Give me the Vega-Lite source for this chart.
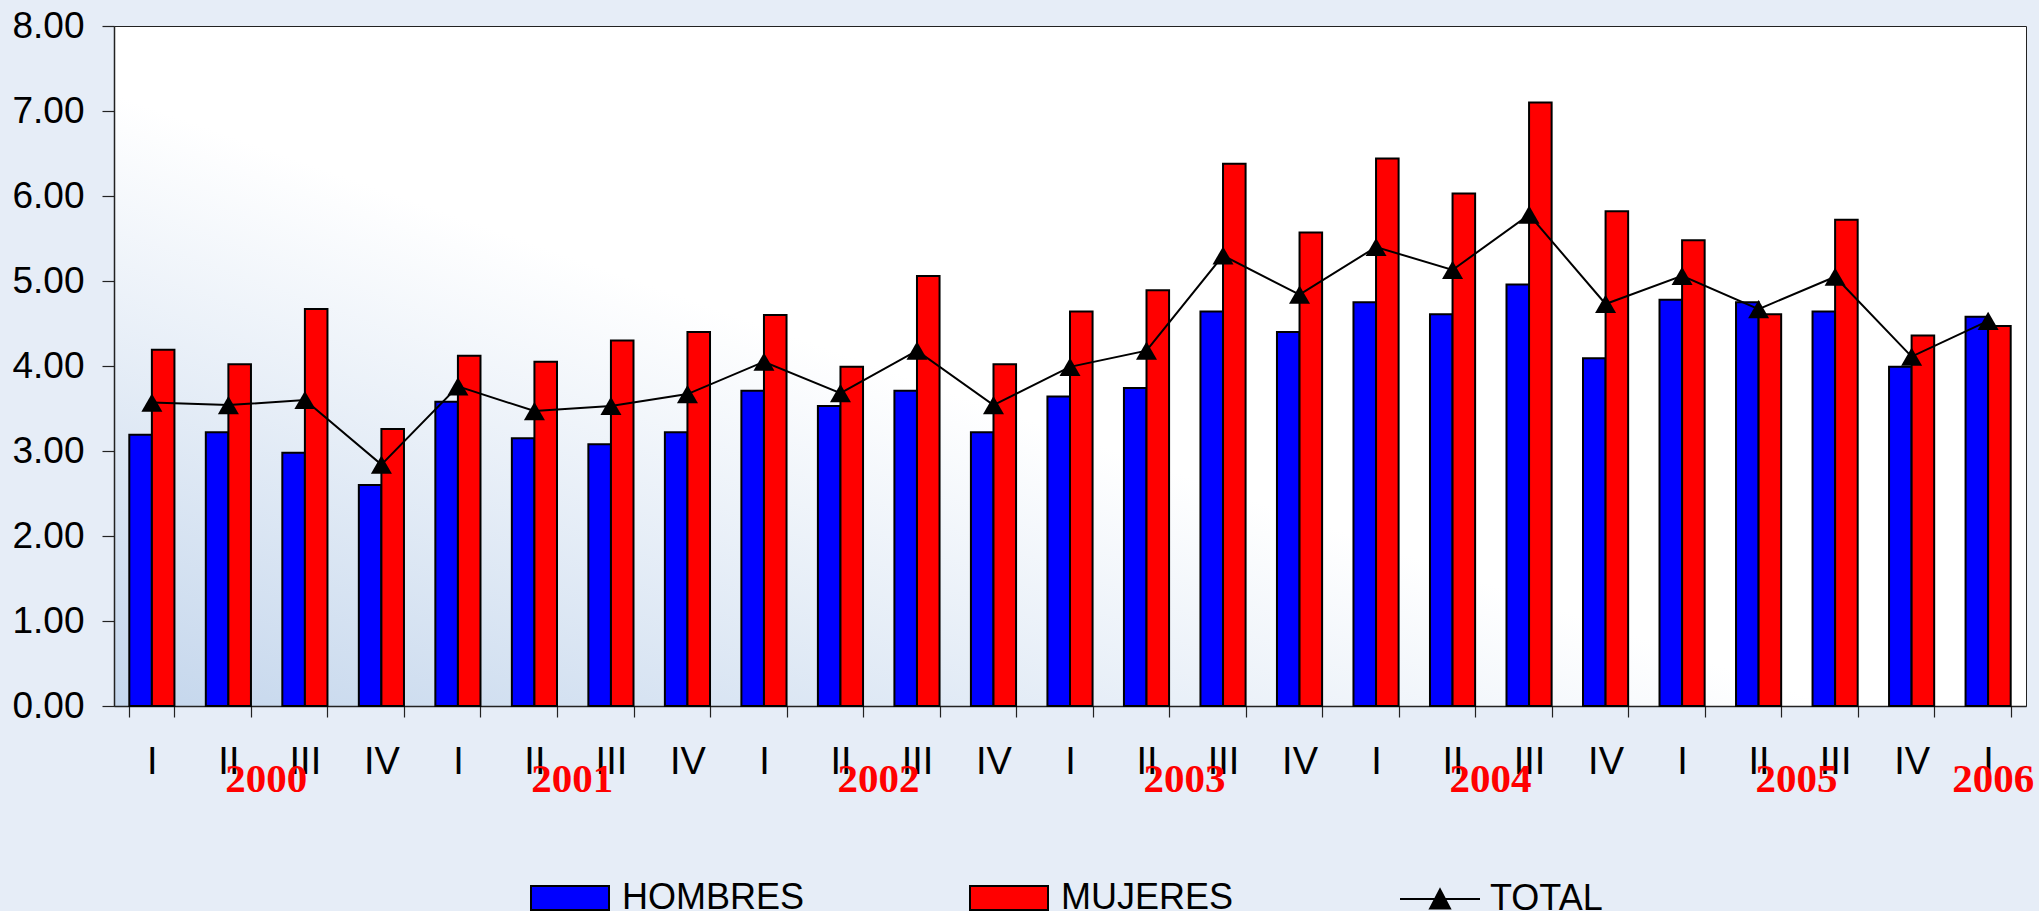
{
  "$schema": "https://vega.github.io/schema/vega-lite/v6.json",
  "width": 1912,
  "height": 680,
  "autosize": {"type": "none"},
  "padding": {"left": 114, "top": 26, "right": 13, "bottom": 205},
  "background": "#e6edf7",
  "config": {
    "view": {
      "stroke": "#222222",
      "strokeWidth": 1,
      "fill": {
        "gradient": "linear",
        "x1": 1, "y1": 0, "x2": 0, "y2": 1,
        "stops": [
          {"offset": 0, "color": "#ffffff"},
          {"offset": 0.55, "color": "#ffffff"},
          {"offset": 1, "color": "#c4d6ec"}
        ]
      }
    },
    "font": "Liberation Sans",
    "axis": {"labelFont": "Liberation Sans", "labelColor": "#000000", "domainColor": "#222222", "tickColor": "#222222", "domainWidth": 1.5, "tickWidth": 1.2},
    "legend": {"labelFont": "Liberation Sans", "labelColor": "#000000"}
  },
  "datasets": {
    "main": [
      {"periodo": "2000-I", "HOMBRES": 3.19, "MUJERES": 4.19, "TOTAL": 3.57},
      {"periodo": "2000-II", "HOMBRES": 3.22, "MUJERES": 4.02, "TOTAL": 3.54},
      {"periodo": "2000-III", "HOMBRES": 2.98, "MUJERES": 4.67, "TOTAL": 3.60},
      {"periodo": "2000-IV", "HOMBRES": 2.60, "MUJERES": 3.26, "TOTAL": 2.84},
      {"periodo": "2001-I", "HOMBRES": 3.58, "MUJERES": 4.12, "TOTAL": 3.76},
      {"periodo": "2001-II", "HOMBRES": 3.15, "MUJERES": 4.05, "TOTAL": 3.47},
      {"periodo": "2001-III", "HOMBRES": 3.08, "MUJERES": 4.30, "TOTAL": 3.53},
      {"periodo": "2001-IV", "HOMBRES": 3.22, "MUJERES": 4.40, "TOTAL": 3.67},
      {"periodo": "2002-I", "HOMBRES": 3.71, "MUJERES": 4.60, "TOTAL": 4.05},
      {"periodo": "2002-II", "HOMBRES": 3.53, "MUJERES": 3.99, "TOTAL": 3.68},
      {"periodo": "2002-III", "HOMBRES": 3.71, "MUJERES": 5.06, "TOTAL": 4.18},
      {"periodo": "2002-IV", "HOMBRES": 3.22, "MUJERES": 4.02, "TOTAL": 3.54},
      {"periodo": "2003-I", "HOMBRES": 3.64, "MUJERES": 4.64, "TOTAL": 3.99},
      {"periodo": "2003-II", "HOMBRES": 3.74, "MUJERES": 4.89, "TOTAL": 4.18},
      {"periodo": "2003-III", "HOMBRES": 4.64, "MUJERES": 6.38, "TOTAL": 5.30},
      {"periodo": "2003-IV", "HOMBRES": 4.40, "MUJERES": 5.57, "TOTAL": 4.84},
      {"periodo": "2004-I", "HOMBRES": 4.75, "MUJERES": 6.44, "TOTAL": 5.40},
      {"periodo": "2004-II", "HOMBRES": 4.61, "MUJERES": 6.03, "TOTAL": 5.13},
      {"periodo": "2004-III", "HOMBRES": 4.96, "MUJERES": 7.10, "TOTAL": 5.78},
      {"periodo": "2004-IV", "HOMBRES": 4.09, "MUJERES": 5.82, "TOTAL": 4.73},
      {"periodo": "2005-I", "HOMBRES": 4.78, "MUJERES": 5.48, "TOTAL": 5.06},
      {"periodo": "2005-II", "HOMBRES": 4.75, "MUJERES": 4.61, "TOTAL": 4.67},
      {"periodo": "2005-III", "HOMBRES": 4.64, "MUJERES": 5.72, "TOTAL": 5.05},
      {"periodo": "2005-IV", "HOMBRES": 3.99, "MUJERES": 4.36, "TOTAL": 4.11},
      {"periodo": "2006-I", "HOMBRES": 4.58, "MUJERES": 4.47, "TOTAL": 4.53}
    ],
    "years": [
      {"anio": "2000", "periodo": "2000-III"},
      {"anio": "2001", "periodo": "2001-III"},
      {"anio": "2002", "periodo": "2002-III"},
      {"anio": "2003", "periodo": "2003-III"},
      {"anio": "2004", "periodo": "2004-III"},
      {"anio": "2005", "periodo": "2005-III"},
      {"anio": "2006", "periodo": "2006-I"}
    ]
  },
  "layer": [
    {
      "data": {"name": "main"},
      "transform": [{"fold": ["HOMBRES", "MUJERES"], "as": ["serie", "valor"]}],
      "mark": {"type": "bar", "stroke": "#000000", "strokeWidth": 2},
      "encoding": {
        "x": {
          "field": "periodo", "type": "nominal", "sort": null,
          "scale": {
            "domain": ["2000-I","2000-II","2000-III","2000-IV","2001-I","2001-II","2001-III","2001-IV","2002-I","2002-II","2002-III","2002-IV","2003-I","2003-II","2003-III","2003-IV","2004-I","2004-II","2004-III","2004-IV","2005-I","2005-II","2005-III","2005-IV","2006-I"],
            "paddingInner": 0.41, "paddingOuter": 0.2
          },
          "axis": {
            "title": null,
            "labelExpr": "split(datum.value, '-')[1]",
            "labelAngle": 0,
            "tickBand": "extent",
            "tickSize": 11,
            "labelPadding": 26,
            "labelFontSize": 38
          }
        },
        "xOffset": {"field": "serie", "type": "nominal", "scale": {"domain": ["HOMBRES", "MUJERES"], "paddingInner": 0, "paddingOuter": 0}},
        "y": {
          "field": "valor", "type": "quantitative",
          "scale": {"domain": [0, 8], "nice": false},
          "axis": {
            "title": null,
            "values": [0, 1, 2, 3, 4, 5, 6, 7, 8],
            "format": ".2f",
            "grid": false,
            "tickSize": 12,
            "labelPadding": 18,
            "labelFontSize": 37
          }
        },
        "color": {
          "field": "serie", "type": "nominal",
          "scale": {"domain": ["HOMBRES", "MUJERES"], "range": ["#0000ff", "#ff0000"]},
          "legend": {
            "title": null,
            "orient": "none",
            "legendX": 416,
            "legendY": 832,
            "direction": "horizontal",
            "symbolType": "M-1,-0.31H1V0.31H-1Z",
            "symbolSize": 6084,
            "symbolStrokeColor": "#000000",
            "symbolStrokeWidth": 2,
            "symbolOpacity": 1,
            "labelFontSize": 36,
            "labelOffset": 12,
            "labelLimit": 400,
            "columnPadding": 161
          }
        }
      }
    },
    {
      "data": {"name": "main"},
      "mark": {"type": "line", "strokeWidth": 2},
      "encoding": {
        "x": {"field": "periodo", "type": "nominal", "sort": null},
        "y": {"field": "TOTAL", "type": "quantitative"},
        "stroke": {
          "datum": "TOTAL", "type": "nominal",
          "scale": {"domain": ["TOTAL"], "range": ["#000000"]},
          "legend": {
            "title": null,
            "orient": "none",
            "legendX": 1285,
            "legendY": 832,
            "symbolType": "M-1,0H1M-0.25,0.24L0,-0.24L0.25,0.24Z",
            "symbolSize": 6400,
            "symbolStrokeWidth": 2,
            "labelFontSize": 36,
            "labelOffset": 9,
            "encode": {"symbols": {"update": {"fill": {"value": "#000000"}, "stroke": {"value": "#000000"}}}}
          }
        }
      }
    },
    {
      "data": {"name": "main"},
      "mark": {"type": "point", "shape": "triangle-up", "filled": true, "size": 441, "color": "#000000", "opacity": 1},
      "encoding": {
        "x": {"field": "periodo", "type": "nominal", "sort": null},
        "y": {"field": "TOTAL", "type": "quantitative"}
      }
    },
    {
      "data": {"name": "years"},
      "transform": [{"filter": "datum.anio != '2006'"}],
      "mark": {"type": "text", "font": "Liberation Serif", "fontWeight": "bold", "fontSize": 41, "color": "#ff0000", "baseline": "alphabetic", "align": "center", "dx": -16, "dy": 86},
      "encoding": {
        "x": {"field": "periodo", "type": "nominal", "sort": null, "bandPosition": 0},
        "y": {"datum": 0, "type": "quantitative"},
        "text": {"field": "anio"}
      }
    },
    {
      "data": {"name": "years"},
      "transform": [{"filter": "datum.anio == '2006'"}],
      "mark": {"type": "text", "font": "Liberation Serif", "fontWeight": "bold", "fontSize": 41, "color": "#ff0000", "baseline": "alphabetic", "align": "center", "dx": 5, "dy": 86},
      "encoding": {
        "x": {"field": "periodo", "type": "nominal", "sort": null},
        "y": {"datum": 0, "type": "quantitative"},
        "text": {"field": "anio"}
      }
    }
  ]
}
